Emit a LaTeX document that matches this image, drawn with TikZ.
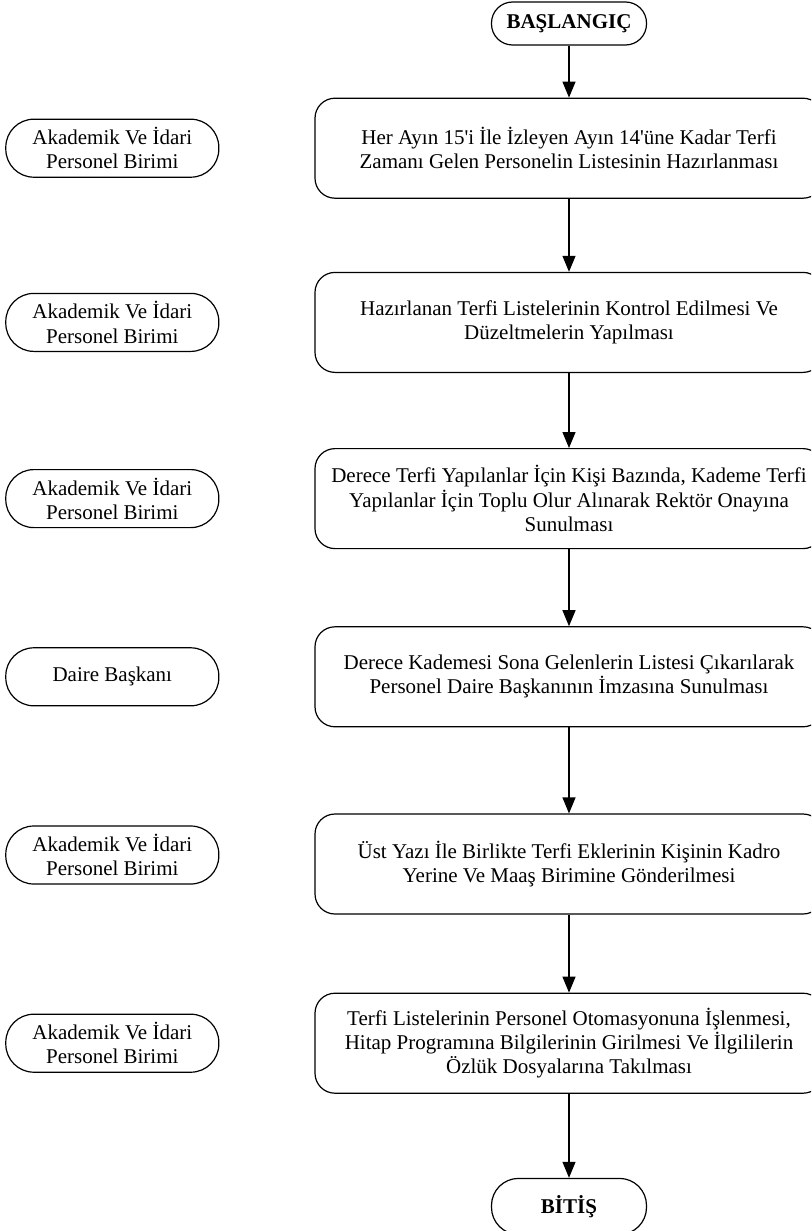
\documentclass[tikz,border=0pt]{standalone}
\usepackage{fontspec}
\newfontfamily\flowfont{Liberation Serif}
\usetikzlibrary{arrows.meta,positioning}

\begin{document}
\begin{tikzpicture}[
    x=1pt, y=-1pt,
    >={Triangle[length=16pt,width=13pt]},
    font=\flowfont\fontsize{21}{24.2}\selectfont,
    line width=1.2pt,
    task/.style={
		rectangle,
		rounded corners=20pt,
		draw=black,
		align=center,
		minimum width=508pt,
		minimum height=100pt,
		inner sep=0pt,
		fill=white
	},
	role/.style={
		rectangle,
		rounded corners=28pt,
		draw=black,
		align=center,
		minimum width=213pt,
		minimum height=58pt,
		inner sep=0pt
	},
	terminal/.style={
		rectangle,
		draw=black,
		font=\flowfont\fontsize{21}{24.2}\selectfont\bfseries,
		minimum width=155pt,
		inner sep=0pt
	}
  ]
  \clip (0,0) rectangle (811,1231);

    % flow on the right

  \node [terminal, minimum height=43pt, rounded corners=21pt] (start) at (569,23.5) {BAŞLANGIÇ};

  \node [task, below=52pt of start] (task1)
 {Her Ayın 15'i İle İzleyen Ayın 14'üne Kadar Terfi\\
  Zamanı Gelen Personelin Listesinin Hazırlanması};

  \node [task, below=73pt of task1] (task2)
 {Hazırlanan Terfi Listelerinin Kontrol Edilmesi Ve\\
  Düzeltmelerin Yapılması};

  \node [task, below=75pt of task2] (task3)
 {Derece Terfi Yapılanlar İçin Kişi Bazında, Kademe Terfi\\
  Yapılanlar İçin Toplu Olur Alınarak Rektör Onayına\\
  Sunulması};

  \node [task, below=77pt of task3] (task4)
 {Derece Kademesi Sona Gelenlerin Listesi Çıkarılarak\\
  Personel Daire Başkanının İmzasına Sunulması};

  \node [task, below=86pt of task4] (task5)
 {Üst Yazı İle Birlikte Terfi Eklerinin Kişinin Kadro\\
  Yerine Ve Maaş Birimine Gönderilmesi};

  \node [task, below=78pt of task5] (task6)
 {Terfi Listelerinin Personel Otomasyonuna İşlenmesi,\\
  Hitap Programına Bilgilerinin Girilmesi Ve İlgililerin\\
  Özlük Dosyalarına Takılması};

  \node [terminal, below=84pt of task6, minimum height=56pt, rounded corners=27pt] (finish) {BİTİŞ};

    % responsible units on the left

  \node [role, left=95pt of task1] (role1) {Akademik Ve İdari\\Personel Birimi};
  \node [role, left=95pt of task2] (role2) {Akademik Ve İdari\\Personel Birimi};
  \node [role, left=95pt of task3] (role3) {Akademik Ve İdari\\Personel Birimi};
  \node [role, left=95pt of task4] (role4) {Daire Başkanı};
  \node [role, left=95pt of task5, yshift=9pt] (role5) {Akademik Ve İdari\\Personel Birimi};
  \node [role, left=95pt of task6] (role6) {Akademik Ve İdari\\Personel Birimi};

 \draw [->] (start) -- (task1);
 \draw [->] (task1) -- (task2);
 \draw [->] (task2) -- (task3);
 \draw [->] (task3) -- (task4);
 \draw [->] (task4) -- (task5);
 \draw [->] (task5) -- (task6);
 \draw [->] (task6) -- (finish);

\end{tikzpicture}
\end{document}
